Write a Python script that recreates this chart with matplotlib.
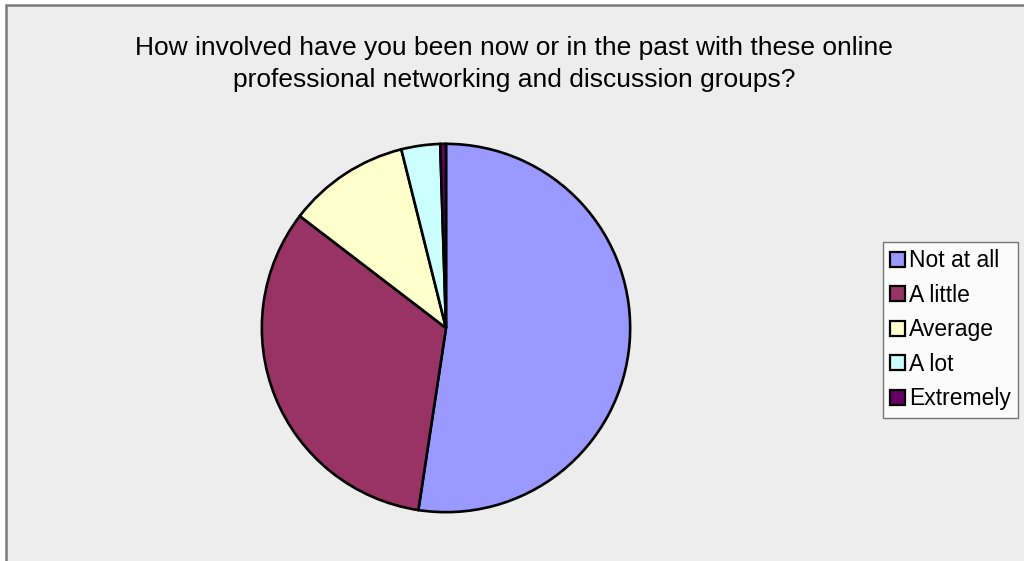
import matplotlib
matplotlib.use("Agg")
import matplotlib.pyplot as plt
from matplotlib.patches import Rectangle

# Survey responses (percent of respondents)
categories = ["Not at all", "A little", "Average", "A lot", "Extremely"]
shares = [52.4, 33.0, 10.7, 3.4, 0.5]
colors = ["#9999FF", "#993366", "#FFFFCC", "#CCFFFF", "#660066"]
title = ("How involved have you been now or in the past with these online\n"
         "professional networking and discussion groups?")

W, H = 1024, 561
fig = plt.figure(figsize=(W / 100, H / 100), dpi=100, facecolor="white")

# Chart area panel with grey frame, kept behind everything else
fig.patches.append(Rectangle((6 / W, -0.05), 1.1, (H - 5) / H + 0.05,
                             transform=fig.transFigure, facecolor="#EDEDED",
                             edgecolor="#7A7A7A", linewidth=1.8, zorder=-10))

# Pie axes placed in pixel terms
cx, cy, r = 446, 328, 186
ax = fig.add_axes([(cx - r) / W, (H - cy - r) / H, 2 * r / W, 2 * r / H])
ax.set_facecolor("none")
wedges, _ = ax.pie(shares, colors=colors, startangle=90, counterclock=False,
                   radius=1.0,
                   wedgeprops=dict(edgecolor="black", linewidth=1.9))
ax.set_xlim(-1.01, 1.01)
ax.set_ylim(-1.01, 1.01)
ax.set_aspect("equal")
ax.axis("off")

font = ["Liberation Sans", "DejaVu Sans"]
fig.text(514 / W, 1 - 64 / H, title, ha="center", va="center",
         fontsize=19, family=font, linespacing=1.4)

leg = fig.legend(wedges, categories, loc="upper left",
                 bbox_to_anchor=(883 / W, 1 - 242 / H),
                 prop=dict(family=font, size=16.5),
                 frameon=True, fancybox=False, edgecolor="#555555",
                 handlelength=0.62, handleheight=0.62, handletextpad=0.2,
                 labelspacing=0.5, borderpad=0.32, borderaxespad=0)
leg.get_frame().set_linewidth(1.0)
leg.get_frame().set_facecolor("white")
for h in leg.legend_handles:
    h.set_edgecolor("black")
    h.set_linewidth(1.6)

fig.savefig("out.png", dpi=100, facecolor="white")
